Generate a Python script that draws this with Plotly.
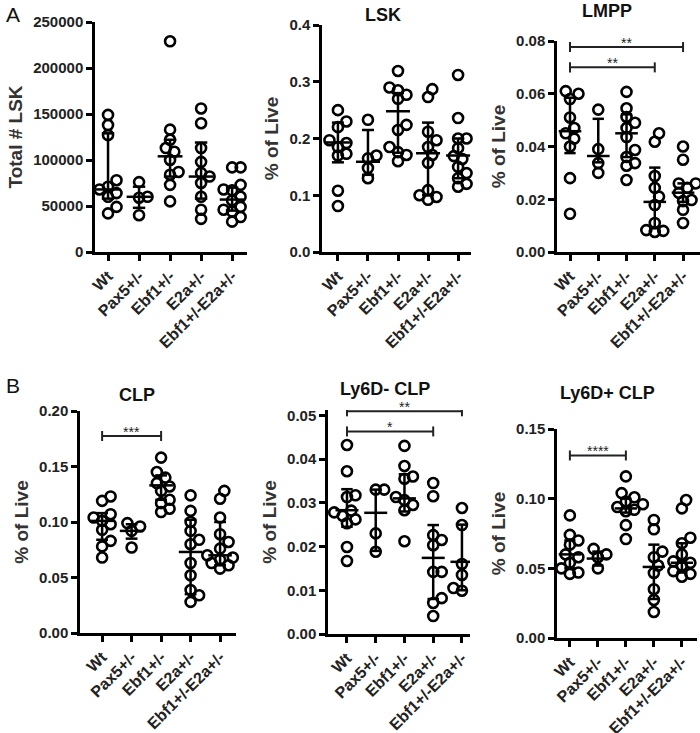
import numpy as np
import plotly.graph_objects as go

W, H = 700, 733

groups = ["Wt", "Pax5+/-", "Ebf1+/-", "E2a+/-", "Ebf1+/-E2a+/-"]

# ---- Panel A1: Total # LSK
tot_lsk = [
    [149000, 138000, 127000, 78000, 71000, 68000, 64000, 60000, 49000, 42000],
    [76000, 60000, 59000, 40000],
    [229000, 133000, 122000, 113000, 109000, 100000, 87000, 84000, 73000, 55000],
    [156000, 140000, 113000, 98000, 86000, 82000, 75000, 60000, 46000, 36000],
    [92000, 92000, 73000, 68000, 67000, 60000, 56000, 53000, 49000, 46000, 44000, 38000, 33000],
]
tot_lsk_center = [68000, 60000, 104000, 82000, 57000]
tot_lsk_low = [58000, 48000, 82000, 58000, 45000]
tot_lsk_high = [129000, 71000, 122000, 119000, 70000]

# ---- Panel A2: LSK % of Live
lsk = [
    [0.25, 0.23, 0.22, 0.197, 0.192, 0.185, 0.173, 0.17, 0.108, 0.081],
    [0.233, 0.17, 0.165, 0.148, 0.13],
    [0.319, 0.29, 0.285, 0.277, 0.27, 0.224, 0.215, 0.185, 0.176, 0.171, 0.16],
    [0.287, 0.273, 0.212, 0.197, 0.185, 0.171, 0.157, 0.109, 0.1, 0.097, 0.092],
    [0.312, 0.236, 0.2, 0.2, 0.183, 0.169, 0.164, 0.15, 0.139, 0.13, 0.12, 0.115],
]
lsk_center = [0.193, 0.159, 0.248, 0.174, 0.17]
lsk_low = [0.158, 0.136, 0.175, 0.1, 0.13]
lsk_high = [0.228, 0.215, 0.28, 0.228, 0.2]

# ---- Panel A3: LMPP % of Live
lmpp = [
    [0.061, 0.060, 0.058, 0.051, 0.047, 0.045, 0.043, 0.040, 0.028, 0.0145],
    [0.054, 0.039, 0.0337, 0.030],
    [0.0607, 0.0545, 0.0512, 0.049, 0.047, 0.0436, 0.0387, 0.036, 0.0337, 0.0327, 0.0273],
    [0.045, 0.0418, 0.0288, 0.0243, 0.021, 0.0178, 0.011, 0.0083, 0.0076, 0.008],
    [0.040, 0.035, 0.026, 0.026, 0.0243, 0.0224, 0.0197, 0.0193, 0.016, 0.011],
]
lmpp_center = [0.0458, 0.0364, 0.045, 0.019, 0.0225]
lmpp_low = [0.0375, 0.034, 0.036, 0.009, 0.019]
lmpp_high = [0.0585, 0.0505, 0.0522, 0.032, 0.026]
lmpp_sig = [("**", 0, 4, 0.0777), ("**", 0, 3, 0.0700)]

# ---- Panel B1: CLP % of Live
clp = [
    [0.123, 0.119, 0.107, 0.104, 0.101, 0.098, 0.093, 0.083, 0.078, 0.068],
    [0.099, 0.096, 0.092, 0.077],
    [0.158, 0.145, 0.14, 0.135, 0.132, 0.128, 0.12, 0.117, 0.112, 0.109],
    [0.124, 0.110, 0.100, 0.092, 0.084, 0.08, 0.063, 0.052, 0.0387, 0.034, 0.028],
    [0.128, 0.121, 0.104, 0.089, 0.082, 0.076, 0.072, 0.070, 0.068, 0.066, 0.063, 0.061, 0.058],
]
clp_center = [0.101, 0.092, 0.133, 0.073, 0.07]
clp_low = [0.084, 0.085, 0.12, 0.035, 0.061]
clp_high = [0.108, 0.098, 0.142, 0.102, 0.1]
clp_sig = [("***", 0, 2, 0.1775)]

# ---- Panel B2: Ly6D- CLP % of Live
ly6dn = [
    [0.0432, 0.0372, 0.0317, 0.0313, 0.0282, 0.0278, 0.027, 0.0262, 0.0253, 0.0199, 0.0167],
    [0.033, 0.033, 0.023, 0.0188],
    [0.043, 0.0384, 0.036, 0.0355, 0.0313, 0.0306, 0.0295, 0.0283, 0.0212],
    [0.0345, 0.0315, 0.0226, 0.0215, 0.0203, 0.0142, 0.0142, 0.0082, 0.0071, 0.0041],
    [0.0288, 0.0249, 0.025, 0.0174, 0.016, 0.0151, 0.0135, 0.0105, 0.0099, 0.0102],
]
ly6dn_center = [0.0283, 0.0277, 0.031, 0.0174, 0.0165]
ly6dn_low = [0.0245, 0.019, 0.028, 0.008, 0.01]
ly6dn_high = [0.0331, 0.033, 0.0365, 0.0249, 0.025]
ly6dn_sig = [("**", 0, 4, 0.0509), ("*", 0, 3, 0.0463)]

# ---- Panel B3: Ly6D+ CLP % of Live
ly6dp = [
    [0.088, 0.074, 0.070, 0.067, 0.060, 0.058, 0.054, 0.050, 0.047, 0.046],
    [0.064, 0.060, 0.058, 0.050],
    [0.116, 0.104, 0.101, 0.098, 0.096, 0.094, 0.092, 0.091, 0.081, 0.071],
    [0.0847, 0.078, 0.062, 0.058, 0.052, 0.0467, 0.035, 0.0273, 0.0187],
    [0.099, 0.093, 0.072, 0.068, 0.06, 0.057, 0.055, 0.054, 0.052, 0.05, 0.048, 0.046, 0.044],
]
ly6dp_center = [0.06, 0.057, 0.093, 0.051, 0.054]
ly6dp_low = [0.05, 0.052, 0.09, 0.028, 0.047]
ly6dp_high = [0.07, 0.062, 0.1, 0.067, 0.068]
ly6dp_sig = [("****", 0, 2, 0.131)]

# panel specs: (data, center, low, high, sig, title, ytitle, xpx, ypx(top,bottom), xrange, yrange, dtick, fmt)
panels = [
    (tot_lsk, tot_lsk_center, tot_lsk_low, tot_lsk_high, [], None, "Total # LSK",
     (95, 247), (22, 252), (-0.42, 4.48), (0, 250000), 50000, "d"),
    (lsk, lsk_center, lsk_low, lsk_high, [], "LSK", "% of Live",
     (322, 471), (25, 252), (-0.53, 4.43), (0, 0.4), 0.1, ".1f"),
    (lmpp, lmpp_center, lmpp_low, lmpp_high, lmpp_sig, "LMPP", "% of Live",
     (557, 700), (41, 252), (-0.46, 4.6), (0, 0.08), 0.02, ".2f"),
    (clp, clp_center, clp_low, clp_high, clp_sig, "CLP", "% of Live",
     (80, 236), (411, 633), (-0.75, 4.54), (0, 0.2), 0.05, ".2f"),
    (ly6dn, ly6dn_center, ly6dn_low, ly6dn_high, ly6dn_sig, "Ly6D- CLP", "% of Live",
     (328, 470), (410, 634), (-0.66, 4.28), (0, 0.0512), 0.01, ".2f"),
    (ly6dp, ly6dp_center, ly6dp_low, ly6dp_high, ly6dp_sig, "Ly6D+ CLP", "% of Live",
     (557, 697), (429, 638), (-0.46, 4.54), (0, 0.15), 0.05, ".2f"),
]
title_pos = {"LSK": (383, 15), "LMPP": (607, 11), "CLP": (137, 395),
             "Ly6D- CLP": (385, 389), "Ly6D+ CLP": (607, 393)}


def swarm(vals, ppy, ppx, diam=8.5):
    vals = np.asarray(vals, float)
    order = np.argsort(vals)
    placed = []
    offs = np.zeros(len(vals))
    for i in order:
        yp = vals[i] * ppy
        cand = 0.0
        for k in range(60):
            cand = 0.0 if k == 0 else ((k + 1) // 2) * (diam * 0.5) * (1 if k % 2 else -1)
            if all((cand - a) ** 2 + (yp - b) ** 2 >= diam ** 2 for a, b in placed):
                break
        placed.append((cand, yp))
        offs[i] = cand / ppx
    return offs


fig = go.Figure()
annotations = []
layout = {}
LW = 2.5
font_fam = "Arial, Liberation Sans, sans-serif"

for n, (data, cen, lo, hi, sig, title, ytitle, xpx, ypx, xr, yr, dt, fmt) in enumerate(panels, start=1):
    xa = "x" if n == 1 else f"x{n}"
    ya = "y" if n == 1 else f"y{n}"
    ppx = (xpx[1] - xpx[0]) / (xr[1] - xr[0])
    ppy = (ypx[1] - ypx[0]) / (yr[1] - yr[0])

    # points
    xs, ys = [], []
    for gi, vals in enumerate(data):
        offs = swarm(vals, ppy, ppx)
        xs += list(gi + offs)
        ys += list(vals)
    fig.add_trace(go.Scatter(
        x=xs, y=ys, mode="markers", xaxis=xa, yaxis=ya, showlegend=False,
        marker=dict(symbol="circle-open", size=10, color="black", line=dict(width=2.6, color="black")),
        cliponaxis=False))

    # center line + error bars
    lx, ly = [], []
    for gi in range(len(data)):
        lx += [gi - 0.4, gi + 0.4, None, gi, gi, None,
               gi - 0.2, gi + 0.2, None, gi - 0.2, gi + 0.2, None]
        ly += [cen[gi], cen[gi], None, lo[gi], hi[gi], None,
               lo[gi], lo[gi], None, hi[gi], hi[gi], None]
    fig.add_trace(go.Scatter(x=lx, y=ly, mode="lines", xaxis=xa, yaxis=ya, showlegend=False,
                             line=dict(color="black", width=LW), hoverinfo="skip"))

    # significance bars
    for stars, g0, g1, lvl in sig:
        cap = 5 / ppy
        sx = [g0, g1, None, g0, g0, None, g1, g1]
        sy = [lvl, lvl, None, lvl - cap, lvl + cap, None, lvl - cap, lvl + cap]
        fig.add_trace(go.Scatter(x=sx, y=sy, mode="lines", xaxis=xa, yaxis=ya, showlegend=False,
                                 line=dict(color="#222", width=2), hoverinfo="skip"))
        annotations.append(dict(x=(g0 + g1) / 2, y=lvl, xref=xa, yref=ya, text=stars,
                                showarrow=False, yanchor="middle", yshift=4,
                                font=dict(family=font_fam, size=14, color="#222")))

    dom_x = [xpx[0] / W, xpx[1] / W]
    dom_y = [1 - ypx[1] / H, 1 - ypx[0] / H]
    axis_common = dict(showline=True, linewidth=LW, linecolor="black", ticks="outside",
                       ticklen=6, tickwidth=2.5, tickcolor="black", showgrid=False,
                       zeroline=False, mirror=False, automargin=False)
    layout["xaxis" if n == 1 else f"xaxis{n}"] = dict(
        domain=dom_x, range=list(xr), anchor=ya, tickmode="array",
        tickvals=list(range(len(groups))), ticktext=groups, tickangle=-45,
        tickfont=dict(family=font_fam, size=16, color="#222", weight="bold"), **axis_common)
    layout["yaxis" if n == 1 else f"yaxis{n}"] = dict(
        domain=dom_y, range=list(yr), anchor=xa, tick0=0, dtick=dt, tickformat=fmt,
        tickfont=dict(family=font_fam, size=15, color="#222", weight="bold"),
        title=dict(text=ytitle, font=dict(family=font_fam, size=19, color="#333", weight="bold"),
                   standoff=6),
        **axis_common)

    if title:
        tx, ty = title_pos[title]
        annotations.append(dict(x=tx / W, y=1 - ty / H, xref="paper", yref="paper", text=title,
                                showarrow=False, xanchor="center", yanchor="middle",
                                font=dict(family=font_fam, size=18, color="#111", weight="bold")))

annotations.append(dict(x=4 / W, y=1 - 15 / H, xref="paper", yref="paper", text="A",
                        showarrow=False, xanchor="left", yanchor="middle",
                        font=dict(family=font_fam, size=21, color="#111")))
annotations.append(dict(x=4 / W, y=1 - 385 / H, xref="paper", yref="paper", text="B",
                        showarrow=False, xanchor="left", yanchor="middle",
                        font=dict(family=font_fam, size=21, color="#111")))

fig.update_layout(width=W, height=H, margin=dict(l=0, r=0, t=0, b=0),
                  plot_bgcolor="white", paper_bgcolor="white",
                  annotations=annotations, showlegend=False, **layout)
fig.write_html("out.html", config={"displayModeBar": False},
               post_script="document.body.style.margin='0';document.body.style.overflow='hidden';")
